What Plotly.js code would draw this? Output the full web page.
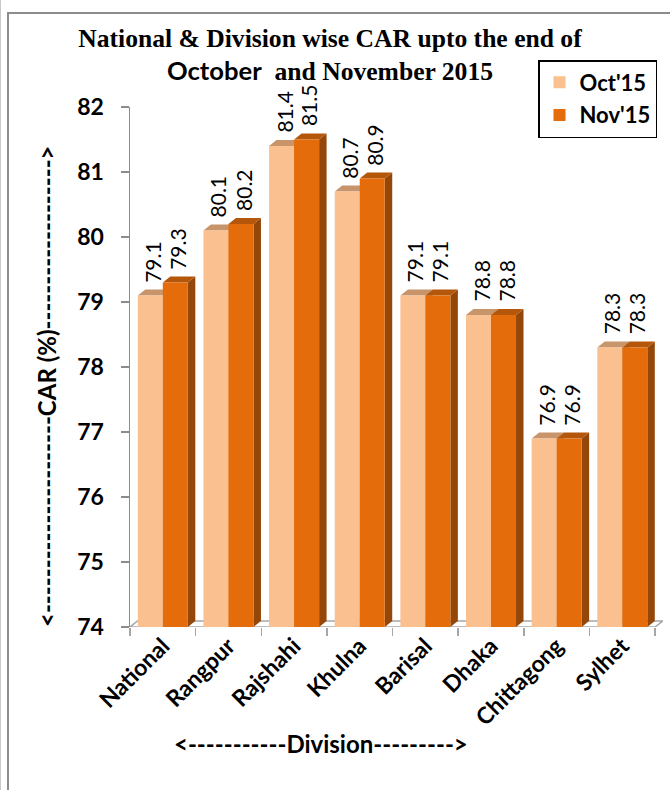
<!DOCTYPE html>
<html>
<head>
<meta charset="utf-8">
<script src="https://cdn.plot.ly/plotly-3.0.1.min.js"></script>
<style>
  html, body { margin: 0; padding: 0; background: #fff; }
  #wrap { position: relative; width: 670px; height: 790px; }
  #chart { width: 670px; height: 790px; }
  #frame { position: absolute; left: 7px; top: 12px; width: 680px; height: 800px;
           border: 2px solid #8c8c8c; pointer-events: none; box-sizing: border-box; }
  #edge { position: absolute; left: 0px; top: 0px; width: 1px; height: 790px;
          background: #c8c8c8; pointer-events: none; }
</style>
</head>
<body>
<div id="wrap">
  <div id="chart"></div>
  <div id="frame"></div>
  <div id="edge"></div>
</div>
<script>
// ---- data ----
var categories = ["National", "Rangpur", "Rajshahi", "Khulna", "Barisal", "Dhaka", "Chittagong", "Sylhet"];
var oct15 = [79.1, 80.1, 81.4, 80.7, 79.1, 78.8, 76.9, 78.3];
var nov15 = [79.3, 80.2, 81.5, 80.9, 79.1, 78.8, 76.9, 78.3];
var seriesNames = ["Oct'15", "Nov'15"];
var yTicks = [74, 75, 76, 77, 78, 79, 80, 81, 82];

// ---- styling ----
var frontColors = ["#FAC090", "#E46C0A"];
var topColors = ["#C8946A", "#B5570B"];
var sideColors = ["#C49A78", "#944708"];
var sans = "Lato, 'Open Sans', sans-serif";
var serif = "'Liberation Serif', 'Times New Roman', serif";

var yMin = 74, yMax = 82;
var xMin = -0.5, xMax = 7.62;
var halfW = 0.1905;          // half width of one bar (data units)
var dx = 0.114, dy = 0.092;  // 3D depth offset (data units)

var series = [oct15, nov15];
var traces = series.map(function (vals, s) {
  return {
    type: "bar",
    name: seriesNames[s],
    legendgroup: "g" + s,
    x: categories,
    y: vals,
    base: 0,
    marker: { color: frontColors[s], line: { width: 0 } },
    hoverinfo: "x+y"
  };
});

// 3D faces built from data
var shapes = [];
shapes.push({
  type: "path", xref: "x", yref: "y", layer: "below",
  path: "M " + xMin + "," + yMin + " L " + (categories.length - 0.5) + "," + yMin +
        " L " + (categories.length - 0.5 + dx) + "," + (yMin + dy) +
        " L " + (xMin + dx) + "," + (yMin + dy) + " Z",
  line: { color: "#a6a6a6", width: 1.5 }, fillcolor: "rgba(0,0,0,0)"
});
categories.forEach(function (c, i) {
  series.forEach(function (vals, s) {
    var off = (s === 0 ? -halfW : halfW);
    var xl = i + off - halfW, xr = i + off + halfW, v = vals[i];
    shapes.push({
      type: "path", xref: "x", yref: "y", layer: "below",
      path: "M " + xr + "," + yMin + " L " + (xr + dx) + "," + (yMin + dy) +
            " L " + (xr + dx) + "," + (v + dy) + " L " + xr + "," + v + " Z",
      fillcolor: sideColors[s], line: { width: 0 }
    });
    shapes.push({
      type: "path", xref: "x", yref: "y", layer: "below",
      path: "M " + xl + "," + v + " L " + (xl + dx) + "," + (v + dy) +
            " L " + (xr + dx) + "," + (v + dy) + " L " + xr + "," + v + " Z",
      fillcolor: topColors[s], line: { width: 0 }
    });
  });
});

// value labels
var annotations = [];
categories.forEach(function (c, i) {
  series.forEach(function (vals, s) {
    var off = (s === 0 ? -halfW : halfW);
    annotations.push({
      xref: "x", yref: "y", x: i + off, y: vals[i],
      text: vals[i].toFixed(1), showarrow: false, textangle: -90,
      xanchor: "center", yanchor: "bottom", yshift: 11, xshift: 2,
      font: { family: sans, size: 21, color: "#000" }
    });
  });
});

// axis titles as annotations
var plotL = 130, plotR = 663, plotT = 107, plotB = 627;
function px2x(p) { return (p - plotL) / (plotR - plotL); }
function px2y(p) { return (plotB - p) / (plotB - plotT); }

annotations.push({
  xref: "paper", yref: "paper", x: px2x(46), y: px2y(386),
  text: "<----------------------CAR (%)------------------->",
  showarrow: false, textangle: -90, xanchor: "center", yanchor: "middle",
  font: { family: sans, size: 24, color: "#000", weight: "bold" }
});
annotations.push({
  xref: "paper", yref: "paper", x: px2x(321), y: px2y(743),
  text: "<-----------Division--------->",
  showarrow: false, xanchor: "center", yanchor: "middle",
  font: { family: sans, size: 24, color: "#000", weight: "bold" }
});

var layout = {
  width: 670, height: 790,
  margin: { l: plotL, r: 670 - plotR, t: plotT, b: 790 - plotB, pad: 0 },
  paper_bgcolor: "#fff", plot_bgcolor: "#fff",
  title: {
    text: "National & Division wise CAR upto the end of<br><span style=\"font-family:Lato\">October</span>  and November 2015",
    x: 330 / 670, xanchor: "center", xref: "container",
    y: 1 - 47 / 790, yanchor: "top", yref: "container",
    font: { family: serif, size: 25.6, color: "#000", weight: "bold" }
  },
  barmode: "group", bargap: 0.238, bargroupgap: 0,
  xaxis: {
    type: "category", range: [xMin, xMax],
    tickson: "boundaries", ticks: "outside", ticklen: 8, tickcolor: "#a6a6a6", tickwidth: 1.5,
    showline: false, showgrid: false, zeroline: false,
    tickangle: -45,
    tickfont: { family: sans, size: 23, color: "#000", weight: "bold" },
    fixedrange: true
  },
  yaxis: {
    range: [yMin, yMax], tickvals: yTicks, ticktext: yTicks.map(String),
    showline: true, linecolor: "#8c8c8c", linewidth: 1.5,
    ticks: "outside", ticklen: 8, tickcolor: "#8c8c8c", tickwidth: 1.5,
    ticklabelstandoff: 12,
    showgrid: false, zeroline: false,
    tickfont: { family: sans, size: 23, color: "#000", weight: "bold" },
    fixedrange: true
  },
  legend: {
    x: px2x(538), y: px2y(60), xanchor: "left", yanchor: "top",
    bgcolor: "#fff", bordercolor: "#000", borderwidth: 1.5,
    font: { family: sans, size: 22, color: "#000", weight: "bold" },
    traceorder: "grouped", tracegroupgap: 1, itemwidth: 30
  },
  shapes: shapes,
  annotations: annotations,
  showlegend: true
};

Plotly.newPlot("chart", traces, layout, { displayModeBar: false, staticPlot: true });
</script>
</body>
</html>
